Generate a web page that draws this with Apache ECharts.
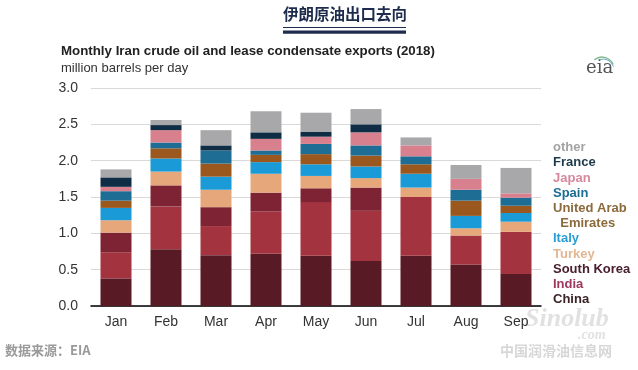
<!DOCTYPE html>
<html><head><meta charset="utf-8">
<script src="https://cdn.jsdelivr.net/npm/echarts@6/dist/echarts.min.js"></script>
<style>html,body{margin:0;padding:0;background:#fff}#c{width:638px;height:370px}</style>
</head><body><div id="c"></div>
<script>
var months = ['Jan','Feb','Mar','Apr','May','Jun','Jul','Aug','Sep'];
var yTicks = [0, 0.5, 1.0, 1.5, 2.0, 2.5, 3.0];
var china      = [0.38, 0.78, 0.70, 0.72, 0.69, 0.62, 0.69, 0.57, 0.44];
var india      = [0.36, 0.59, 0.40, 0.58, 0.74, 0.69, 0.81, 0.40, 0.58];
var southKorea = [0.27, 0.29, 0.26, 0.26, 0.19, 0.32, 0.00, 0.00, 0.00];
var turkey     = [0.17, 0.19, 0.24, 0.26, 0.17, 0.13, 0.13, 0.10, 0.14];
var italy      = [0.17, 0.18, 0.18, 0.16, 0.16, 0.16, 0.19, 0.17, 0.12];
var uae        = [0.10, 0.14, 0.18, 0.10, 0.14, 0.15, 0.13, 0.21, 0.10];
var spain      = [0.13, 0.08, 0.18, 0.06, 0.14, 0.14, 0.11, 0.15, 0.11];
var japan      = [0.06, 0.17, 0.00, 0.16, 0.10, 0.18, 0.15, 0.15, 0.06];
var france     = [0.13, 0.07, 0.07, 0.09, 0.07, 0.11, 0.00, 0.00, 0.00];
var other      = [0.11, 0.07, 0.21, 0.29, 0.26, 0.21, 0.11, 0.19, 0.35];

var seriesNames = ['China','India','South Korea','Turkey','Italy','United Arab Emirates','Spain','Japan','France','other'];
var seriesData = [china, india, southKorea, turkey, italy, uae, spain, japan, france, other];
var barColors = ['#581a24','#a3343f','#7e2333','#e6a77b','#1a9bd7','#9a581f','#1d6d95','#d9808e','#0f2d44','#a8a8aa'];
var legendColors = ['#3a2426','#a0385e','#4a2030','#e2b795','#2a9fd6','#8b6a3c','#1b6d96','#d7899b','#1b3a4b','#a3a3a3'];

var chart = echarts.init(document.getElementById('c'), null, {renderer:'canvas'});
var series = seriesNames.map(function(n, i){
  return {name:n, type:'bar', stack:'all', data:seriesData[i], barWidth:31,
    itemStyle:{color:barColors[i]}, emphasis:{disabled:true}};
});
var legendData = seriesNames.slice().reverse().map(function(n){
  var i = seriesNames.indexOf(n);
  return {name:n, icon:'none', textStyle:{color:legendColors[i]}};
});
chart.setOption({
  animation:false,
  grid:{left:91, right:97, top:88, bottom:64, containLabel:false},
  legend:{orient:'vertical', left:543, top:135, itemWidth:0, itemHeight:10, itemGap:0,
    selectedMode:false, data:legendData,
    formatter:function(n){ return n==='United Arab Emirates' ? 'United Arab\n  Emirates' : n; },
    textStyle:{fontFamily:'Liberation Sans, Arial, sans-serif', fontWeight:'bold', fontSize:13, lineHeight:15.2}},
  xAxis:{type:'category', data:months,
    axisLine:{lineStyle:{color:'#000', width:1.5}}, axisTick:{show:false},
    axisLabel:{color:'#333', fontSize:14, fontFamily:'Liberation Sans, Arial, sans-serif', margin:9}},
  yAxis:{type:'value', min:0, max:3, interval:0.5,
    axisLine:{show:false}, axisTick:{show:false},
    splitLine:{lineStyle:{color:'#d9d9d9', width:1}},
    axisLabel:{color:'#333', fontSize:14, fontFamily:'Liberation Sans, Arial, sans-serif', margin:13,
      formatter:function(v){ return v.toFixed(1); }}},
  series:series,
  graphic:[
    {type:'text', left:283, top:6, style:{text:'伊朗原油出口去向', fill:'#1d2b4c',
      font:'bold 15.5px "Noto Sans CJK SC"'}},
    {type:'rect', shape:{x:283, y:27, width:123, height:1}, style:{fill:'#1d2b4c'}},
    {type:'rect', shape:{x:283, y:30.5, width:123, height:3.2}, style:{fill:'#1d2b4c'}},
    {type:'text', left:61, top:45, style:{text:'Monthly Iran crude oil and lease condensate exports (2018)',
      fill:'#222', font:'bold 13.3px "Liberation Sans", Arial, sans-serif'}},
    {type:'text', left:61, top:62, style:{text:'million barrels per day',
      fill:'#333', font:'13px "Liberation Sans", Arial, sans-serif'}},
    {type:'text', left:586, top:59, style:{text:'eia', fill:'#555',
      font:'18px "DejaVu Serif", "Liberation Serif", serif'}},
    {type:'arc', shape:{cx:602, cy:69, r:12, startAngle:-Math.PI*0.72, endAngle:-Math.PI*0.12},
      style:{stroke:'#7db98a', lineWidth:1.3, fill:null}},
    {type:'arc', shape:{cx:603, cy:70, r:11, startAngle:-Math.PI*0.6, endAngle:-Math.PI*0.1},
      style:{stroke:'#6aa7c9', lineWidth:1, fill:null}},
    {type:'text', left:5, top:344, style:{text:'数据来源：EIA', fill:'#9a9a9a',
      font:'bold 13px "Noto Sans CJK SC"'}},
    {type:'text', left:525, top:306, style:{text:'Sinolub', fill:'rgba(200,200,200,0.55)',
      font:'italic bold 26px "Liberation Serif", serif'}},
    {type:'text', left:578, top:328, style:{text:'.com', fill:'rgba(200,200,200,0.55)',
      font:'italic bold 14px "Liberation Serif", serif'}},
    {type:'text', left:500, top:344, style:{text:'中国润滑油信息网', fill:'rgba(205,205,205,0.8)',
      font:'bold 14px "Noto Sans CJK SC"'}}
  ]
});
</script></body></html>
